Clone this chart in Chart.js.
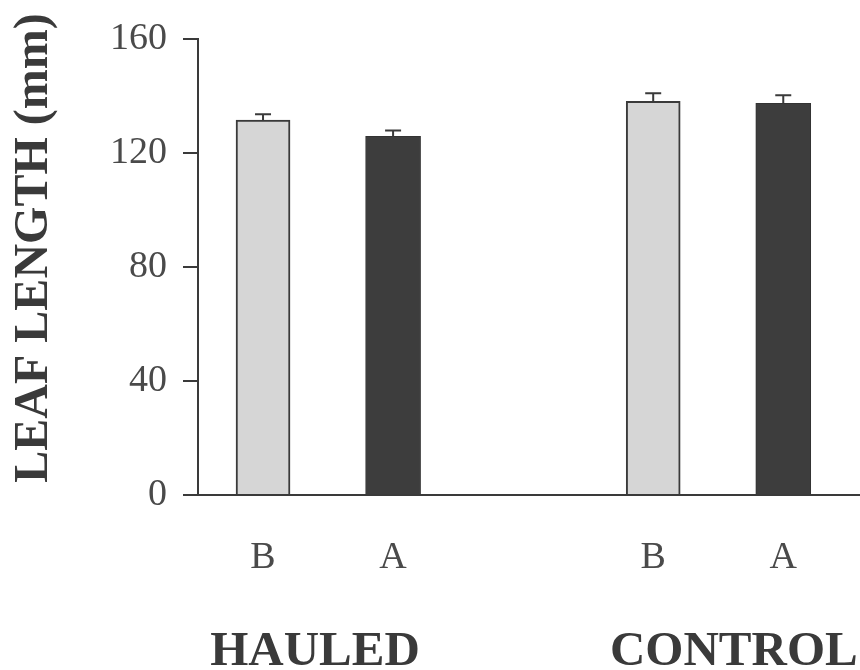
<!DOCTYPE html>
<html>
<head>
<meta charset="utf-8">
<script src="https://cdn.jsdelivr.net/npm/chart.js@4.4.1/dist/chart.umd.min.js"></script>
<style>
  html, body { margin: 0; padding: 0; background: #ffffff; }
  #wrap { width: 860px; height: 670px; position: relative; }
</style>
</head>
<body>
<div id="wrap"><canvas id="chart"></canvas></div>
<script>
// Mean leaf length (mm) before (B) and after (A), with standard errors
const groups = ['HAULED', 'CONTROL'];
const periods = ['B', 'A'];
const beforeMean = [131.5, 138.1];
const afterMean = [125.8, 137.4];
const beforeErr = [2.0, 2.8];
const afterErr = [2.0, 2.8];
const yTicks = [0, 40, 80, 120, 160];

const SERIF = "'Liberation Serif', 'Times New Roman', serif";
const INK = '#3a3a3a';

// each group takes three slots on the x axis: B, A, then a gap
const slotOf = (g, p) => g * 3 + p + 0.5;
const tickSlots = [];
const tickText = [];
groups.forEach((g, gi) => periods.forEach((p, pi) => {
  tickSlots.push(slotOf(gi, pi));
  tickText.push(p);
}));
const groupLabelSlot = [0.9, 4.12];

const beforeData = beforeMean.map((v, i) => ({ x: slotOf(i, 0), y: v, err: beforeErr[i] }));
const afterData = afterMean.map((v, i) => ({ x: slotOf(i, 1), y: v, err: afterErr[i] }));

// standard error whiskers above each bar
const errorBars = {
  id: 'errorBars',
  afterDatasetsDraw(chart) {
    const { ctx, scales: { y } } = chart;
    ctx.save();
    ctx.strokeStyle = INK;
    ctx.lineWidth = 2;
    chart.data.datasets.forEach((ds, di) => {
      const meta = chart.getDatasetMeta(di);
      meta.data.forEach((bar, i) => {
        const d = ds.data[i];
        const top = y.getPixelForValue(d.y + d.err);
        const base = y.getPixelForValue(d.y);
        ctx.beginPath();
        ctx.moveTo(bar.x, base);
        ctx.lineTo(bar.x, top);
        ctx.moveTo(bar.x - 8, top);
        ctx.lineTo(bar.x + 8, top);
        ctx.stroke();
      });
    });
    ctx.restore();
  }
};

// group names under the B/A labels, and the rotated y title
const labels = {
  id: 'labels',
  afterDraw(chart) {
    const { ctx, scales: { x } } = chart;
    ctx.save();
    ctx.fillStyle = INK;
    ctx.font = `bold 49px ${SERIF}`;
    ctx.textAlign = 'center';
    ctx.textBaseline = 'alphabetic';
    groups.forEach((g, i) => {
      ctx.fillText(g, x.getPixelForValue(groupLabelSlot[i]), 665);
    });
    ctx.translate(47, 248);
    ctx.rotate(-Math.PI / 2);
    ctx.font = `bold 48px ${SERIF}`;
    ctx.fillText('LEAF LENGTH (mm)', 0, 0);
    ctx.restore();
  }
};

new Chart(document.getElementById('chart'), {
  type: 'bar',
  data: {
    datasets: [
      {
        label: 'B',
        data: beforeData,
        backgroundColor: '#d6d6d6',
        borderColor: INK,
        borderWidth: 2,
        barThickness: 54,
        grouped: false
      },
      {
        label: 'A',
        data: afterData,
        backgroundColor: '#3d3d3d',
        borderColor: '#333333',
        borderWidth: 1,
        barThickness: 55,
        grouped: false
      }
    ]
  },
  options: {
    responsive: true,
    maintainAspectRatio: false,
    animation: false,
    layout: { padding: { top: 20, right: 0, left: 0, bottom: 0 } },
    plugins: {
      legend: { display: false },
      tooltip: { enabled: false }
    },
    scales: {
      x: {
        type: 'linear',
        offset: false,
        min: 0,
        max: 5.09,
        grid: { display: false },
        border: { display: true, color: INK, width: 2 },
        afterBuildTicks(scale) {
          scale.ticks = tickSlots.map(v => ({ value: v }));
        },
        afterFit(scale) { scale.height = 175; },
        ticks: {
          autoSkip: false,
          maxRotation: 0,
          padding: 32,
          color: '#4a4a4a',
          font: { family: SERIF, size: 38 },
          callback(value) {
            const i = tickSlots.indexOf(value);
            return i >= 0 ? tickText[i] : '';
          }
        }
      },
      y: {
        min: 0,
        max: 160,
        afterBuildTicks(scale) {
          scale.ticks = yTicks.map(v => ({ value: v }));
        },
        afterFit(scale) { scale.width = 198; },
        grid: {
          drawOnChartArea: false,
          drawTicks: true,
          tickLength: 15,
          color: INK,
          lineWidth: 2
        },
        border: { display: true, color: INK, width: 2 },
        ticks: {
          padding: 16,
          color: '#4a4a4a',
          font: { family: SERIF, size: 38 }
        }
      }
    }
  },
  plugins: [errorBars, labels]
});
</script>
</body>
</html>
